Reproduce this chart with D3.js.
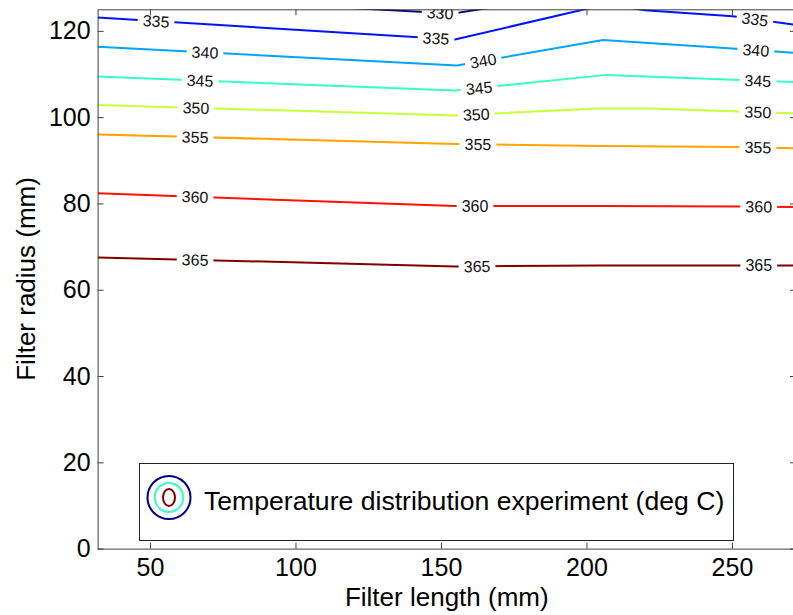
<!DOCTYPE html>
<html><head><meta charset="utf-8">
<script src="https://cdn.jsdelivr.net/npm/d3@7"></script>
<style>
html,body{margin:0;padding:0;background:#fff;}
svg{display:block;font-family:"Liberation Sans",Arial,sans-serif;}
</style></head><body>
<svg id="chart" width="793" height="615"></svg>
<script>
// Isotherm levels (deg C)
const levels = [330, 335, 340, 345, 350, 355, 360, 365];
const xTicks = [50, 100, 150, 200, 250];
const yTicks = [0, 20, 40, 60, 80, 100, 120];

// Isotherm paths as [filter length (mm), filter radius (mm)]
const iso330 = [[100, 126.0], [154, 124.0], [170, 125.7], [180, 126.8]];
const iso335 = [[32, 123.1], [154.8, 118.0], [207, 126.2], [220, 124.8], [250.3, 123.4], [272, 121.4]];
const iso340 = [[32, 116.3], [155.5, 112.0], [205.7, 117.9], [252.7, 115.8], [272, 114.9]];
const iso345 = [[32, 109.4], [154.8, 106.2], [207, 109.8], [252.7, 108.6], [272, 108.1]];
const iso350 = [[32, 102.8], [154.8, 100.4], [203.6, 102.0], [221.8, 102.0], [252.7, 101.3], [272, 100.9]];
const iso355 = [[32, 96.0], [154.8, 93.8], [204.6, 93.3], [252.7, 93.1], [272, 92.8]];
const iso360 = [[32, 82.35], [154.8, 79.4], [204.6, 79.4], [252.7, 79.3], [272, 79.2]];
const iso365 = [[32, 67.5], [154.8, 65.4], [204.6, 65.6], [272, 65.6]];
const isoPaths = [iso330, iso335, iso340, iso345, iso350, iso355, iso360, iso365];

// Filter length at which each isotherm carries its inline value labels
const labelLeft  = [null, 52.1, 68.9, 67.2, 65.8, 65.5, 65.5, 65.5];
const labelMid   = [149.7, 148.3, 164.5, 163.1, 162.1, 162.7, 161.7, 162.4];
const labelRight = [null, 257.9, 258.2, 258.9, 258.9, 258.9, 259.2, 259.2];

const legendText = "Temperature distribution experiment (deg C)";

// jet colormap
function jet(t) {
  const c = v => Math.max(0, Math.min(1, v));
  const r = c(Math.min(4 * t - 1.5, -4 * t + 4.5));
  const g = c(Math.min(4 * t - 0.5, -4 * t + 3.5));
  const b = c(Math.min(4 * t + 0.5, -4 * t + 2.5));
  return d3.rgb(r * 255, g * 255, b * 255).formatHex();
}
const color = d3.scaleLinear().domain([levels[0], levels[levels.length - 1]]).range([0, 1]);

const svg = d3.select("#chart");
const x = d3.scaleLinear().domain([32, 272]).range([97.6, 796]);
const y = d3.scaleLinear().domain([0, 125]).range([548.6, 9.3]);
const axisColor = "#404040";

const defs = svg.append("defs");
defs.append("clipPath").attr("id", "plotClip").append("rect")
  .attr("x", x(32)).attr("y", y(125)).attr("width", x(272) - x(32)).attr("height", y(0) - y(125));

function yAt(path, xv) {
  for (let i = 0; i < path.length - 1; i++) {
    const [x0, y0] = path[i], [x1, y1] = path[i + 1];
    if (xv >= x0 && xv <= x1) return y0 + (y1 - y0) * (xv - x0) / (x1 - x0);
  }
  return xv < path[0][0] ? path[0][1] : path[path.length - 1][1];
}

// label records
const labels = [];
levels.forEach((lv, i) => {
  [labelLeft[i], labelMid[i], labelRight[i]].forEach(lx => {
    if (lx == null) return;
    const p = isoPaths[i];
    const px = x(lx), py = y(yAt(p, lx));
    const dx = 2.2;
    const a = Math.atan2(y(yAt(p, lx + dx)) - y(yAt(p, lx - dx)), x(lx + dx) - x(lx - dx)) * 180 / Math.PI;
    labels.push({ level: lv, px, py, angle: a });
  });
});

const plot = svg.append("g").attr("clip-path", "url(#plotClip)");

// measure label widths for line gaps
const measure = svg.append("text").attr("font-size", 16).text("000");
const lblW = measure.node().getComputedTextLength();
measure.remove();

const mask = defs.append("mask").attr("id", "lineMask").attr("maskUnits", "userSpaceOnUse")
  .attr("x", 0).attr("y", 0).attr("width", 793).attr("height", 615);
mask.append("rect").attr("x", 0).attr("y", 0).attr("width", 793).attr("height", 615).attr("fill", "#fff");
mask.selectAll("rect.gap").data(labels).join("rect").attr("class", "gap")
  .attr("x", -(lblW + 10) / 2).attr("y", -6).attr("width", lblW + 10).attr("height", 12)
  .attr("fill", "#000")
  .attr("transform", d => `translate(${d.px},${d.py}) rotate(${d.angle})`);

const line = d3.line().x(d => x(d[0])).y(d => y(d[1]));
plot.append("g").attr("mask", "url(#lineMask)")
  .selectAll("path").data(isoPaths).join("path")
  .attr("d", line)
  .attr("fill", "none")
  .attr("stroke", (d, i) => jet(color(levels[i])))
  .attr("stroke-width", 2);

plot.selectAll("text.clabel").data(labels).join("text").attr("class", "clabel")
  .attr("transform", d => `translate(${d.px},${d.py}) rotate(${d.angle})`)
  .attr("text-anchor", "middle").attr("dy", "0.36em")
  .attr("font-size", 16).attr("fill", "#111")
  .text(d => d.level);

// axes
const fmt = d3.format("d");
const gx = svg.append("g").attr("transform", `translate(0,${y(0)})`)
  .call(d3.axisBottom(x).tickValues(xTicks).tickSizeInner(-6).tickSizeOuter(0).tickPadding(10).tickFormat(fmt));
const gy = svg.append("g").attr("transform", `translate(${x(32)},0)`)
  .call(d3.axisLeft(y).tickValues(yTicks).tickSizeInner(-6).tickSizeOuter(0).tickPadding(7).tickFormat(fmt));
const gt = svg.append("g").attr("transform", `translate(0,${y(125)})`)
  .call(d3.axisTop(x).tickValues(xTicks).tickSizeInner(-6).tickSizeOuter(0).tickFormat(""));
const gr = svg.append("g").attr("transform", `translate(${x(272)},0)`)
  .call(d3.axisRight(y).tickValues(yTicks).tickSizeInner(-6).tickSizeOuter(0).tickFormat(""));
[gx, gy, gt, gr].forEach(g => {
  g.selectAll(".domain").attr("stroke", axisColor);
  g.selectAll(".tick line").attr("stroke", axisColor);
  g.selectAll("text").attr("font-size", 25).attr("fill", "#000")
    .attr("font-family", '"Liberation Sans",Arial,sans-serif');
});

// axis titles
svg.append("text").attr("x", (x(32) + x(272)) / 2).attr("y", 606)
  .attr("text-anchor", "middle").attr("font-size", 26).attr("fill", "#000")
  .text("Filter length (mm)");
svg.append("text").attr("transform", `translate(35,${(y(0) + y(125)) / 2}) rotate(-90)`)
  .attr("text-anchor", "middle").attr("font-size", 26).attr("fill", "#000")
  .text("Filter radius (mm)");

// legend
const lg = svg.append("g");
lg.append("rect").attr("x", 139.5).attr("y", 463.5).attr("width", 594).attr("height", 77)
  .attr("fill", "#fff").attr("stroke", "#222").attr("stroke-width", 1);
const icon = [
  { rx: 21.5, ry: 21.5, c: jet(0) },
  { rx: 14.2, ry: 14.5, c: jet(color(345)) },
  { rx: 6, ry: 8.5, c: jet(1) }
];
lg.selectAll("ellipse").data(icon).join("ellipse")
  .attr("cx", 169).attr("cy", 497.5)
  .attr("rx", d => d.rx).attr("ry", d => d.ry)
  .attr("fill", "none").attr("stroke", d => d.c).attr("stroke-width", 2);
lg.append("text").attr("x", 204).attr("y", 510).attr("font-size", 26.6).attr("fill", "#000")
  .text(legendText);
</script>
</body></html>
